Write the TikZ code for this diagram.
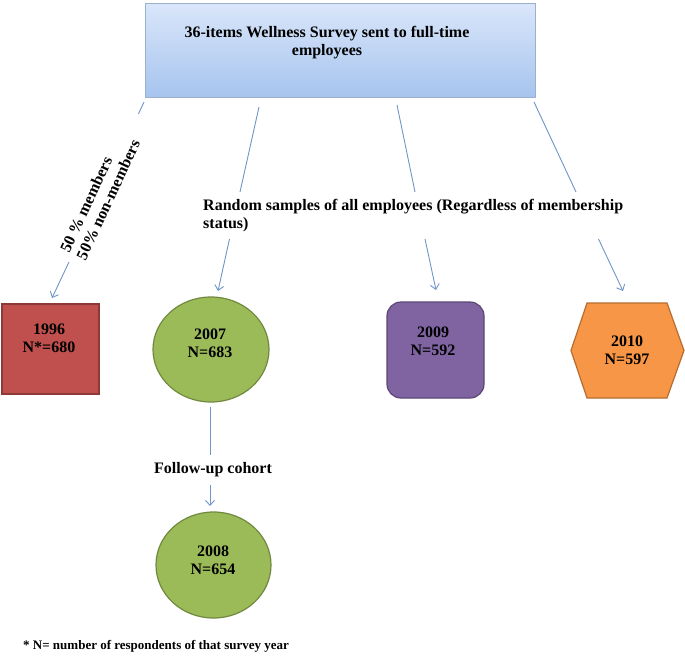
\documentclass[tikz,border=0pt]{standalone}
\usepackage{fontspec}
\setmainfont{Liberation Serif}
\usetikzlibrary{arrows.meta,shapes.geometric}
\definecolor{lineblue}{HTML}{7096C8}
\definecolor{boxtop}{HTML}{DAE6FA}
\definecolor{boxbot}{HTML}{A6C4EE}
\definecolor{boxborder}{HTML}{9AB0CC}
\definecolor{redfill}{HTML}{C0504D}
\definecolor{reddark}{HTML}{8C3A38}
\definecolor{greenfill}{HTML}{9BBB59}
\definecolor{greendark}{HTML}{71893F}
\definecolor{purplefill}{HTML}{8064A2}
\definecolor{purpledark}{HTML}{5C4776}
\definecolor{orangefill}{HTML}{F79646}
\definecolor{orangedark}{HTML}{B66D31}
\begin{document}
\begin{tikzpicture}[x=1pt,y=-1pt,
  conn/.style={draw=lineblue, line width=0.9pt},
  arr/.style={conn, -{Straight Barb[length=5pt,width=9pt]}},
  lbl/.style={font=\fontsize{16}{18}\selectfont\bfseries, inner sep=0pt},
  yeartext/.style={lbl, align=center},
  shapebox/.style={line width=1.2pt, inner sep=0pt},
]
\useasboundingbox (0,0) rectangle (685,656);
\fill[white] (0,0) rectangle (685,656);

% top box
\node[draw=boxborder, line width=1pt, top color=boxtop, bottom color=boxbot,
      minimum width=390pt, minimum height=94pt, inner sep=0pt] (box) at (340,50) {};
\node[lbl, align=center] (boxtxt) at (327,43) {36-items Wellness Survey sent to full-time\\employees};

% targets
\node[shapebox, draw=reddark, fill=redfill, minimum width=97pt, minimum height=90pt] (r96) at (50.5,349) {};
\node[yeartext] (t96) at (49,338) {1996\\N*=680};

\node[shapebox, ellipse, draw=greendark, fill=greenfill, minimum width=116pt, minimum height=105pt] (g07) at (211,349.5) {};
\node[yeartext] (t07) at (210,343) {2007\\N=683};

\node[shapebox, draw=purpledark, fill=purplefill, rounded corners=14pt, minimum width=97pt, minimum height=96pt] (p09) at (435.5,350) {};
\node[yeartext] (t09) at (433,341) {2009\\N=592};

\draw[shapebox, draw=orangedark, fill=orangefill]
  (587,303) -- (667,303) -- (684,350.5) -- (667,398) -- (587,398) -- (571,350.5) -- cycle;
\node[yeartext] (t10) at (627,350) {2010\\N=597};

\node[shapebox, ellipse, draw=greendark, fill=greenfill, minimum width=115pt, minimum height=106pt] (g08) at (213.5,565) {};
\node[yeartext] (t08) at (213,560.5) {2008\\N=654};

% labels
\node[lbl, align=left, rotate=65] (memb) at (100,196) {50 \% members\\50\% non-members};
\node[lbl, align=left, anchor=west] (rand) at (203,216) {Random samples of all employees (Regardless of membership\\status)};
\node[lbl] (fu) at (213,470) {Follow-up cohort};
\node[font=\fontsize{13}{15}\selectfont\bfseries, inner sep=0pt, anchor=west] (foot) at (23,646) {* N= number of respondents of that survey year};

% connector points
\coordinate (a1s) at (144,102); \coordinate (a1m) at (138.4,114);
\coordinate (a1n) at (69,262);  \coordinate (a1e) at (52,298);
\coordinate (a2s) at (259,107); \coordinate (a2m) at (240,192);
\coordinate (a2n) at (229.5,239); \coordinate (a2e) at (218,291);
\coordinate (a3s) at (397,105); \coordinate (a3m) at (415,192);
\coordinate (a3n) at (425,239); \coordinate (a3e) at (436,290);
\coordinate (a4s) at (534,102); \coordinate (a4m) at (576,192);
\coordinate (a4n) at (598.5,239); \coordinate (a4e) at (623,291);
\coordinate (a5s) at (210,407); \coordinate (a5m) at (210,455);
\coordinate (a5n) at (210,485); \coordinate (a5e) at (210,506);

\draw[conn] (a1s) -- (a1m); \draw[arr] (a1n) -- (a1e);
\draw[conn] (a2s) -- (a2m); \draw[arr] (a2n) -- (a2e);
\draw[conn] (a3s) -- (a3m); \draw[arr] (a3n) -- (a3e);
\draw[conn] (a4s) -- (a4m); \draw[arr] (a4n) -- (a4e);
\draw[conn] (a5s) -- (a5m); \draw[arr] (a5n) -- (a5e);
\end{tikzpicture}
\end{document}
